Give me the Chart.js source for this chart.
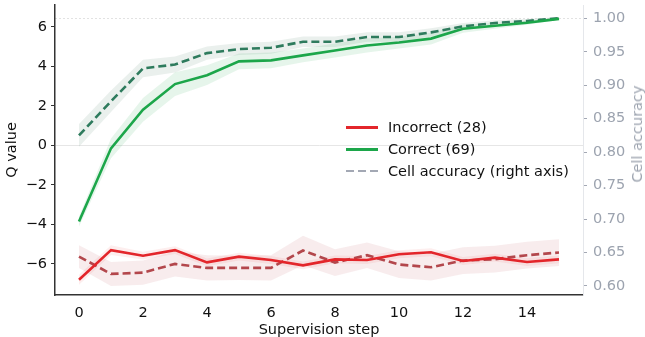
<!DOCTYPE html>
<html>
<head>
<meta charset="utf-8">
<title>Q value by supervision step</title>
<script src="https://cdn.jsdelivr.net/npm/chart.js@4.4.1/dist/chart.umd.min.js"></script>
<style>
  body { margin: 0; background: #fff; }
  #wrap { position: relative; width: 645px; height: 337px; }
  #legend {
    position: absolute; left: 346px; top: 116px;
    font: 14.5px "DejaVu Sans", sans-serif; color: #111;
  }
  .row { display: flex; align-items: center; height: 22px; white-space: nowrap; }
  .swatch { width: 32px; height: 3px; margin-right: 10px; }
  .dashed { background: repeating-linear-gradient(to right, #a3a8b4 0 8px, transparent 8px 12px); height: 2.5px; }
  #rightTitle {
    position: absolute; left: 637px; top: 134px;
    transform: translate(-50%, -50%) rotate(-90deg);
    font: 14.5px "DejaVu Sans", sans-serif; color: #9ca3af; white-space: nowrap;
  }
</style>
</head>
<body>
<div id="wrap">
  <canvas id="chart" width="645" height="337"></canvas>
  <div id="legend">
    <div class="row"><span class="swatch" style="background:#e3262b"></span>Incorrect (28)</div>
    <div class="row"><span class="swatch" style="background:#1ca64a"></span>Correct (69)</div>
    <div class="row"><span class="swatch dashed"></span>Cell accuracy (right axis)</div>
  </div>
  <div id="rightTitle">Cell accuracy</div>
</div>
<script>
// Supervision steps and tick labels
const steps = [0, 1, 2, 3, 4, 5, 6, 7, 8, 9, 10, 11, 12, 13, 14, 15];
const xTicks = [0, 2, 4, 6, 8, 10, 12, 14];
const qTicks = [-6, -4, -2, 0, 2, 4, 6];
const accTicks = [0.60, 0.65, 0.70, 0.75, 0.80, 0.85, 0.90, 0.95, 1.00];

// Q value (left axis), mean and band half-width
const correctQ = [-3.85, -0.15, 1.8, 3.1, 3.55, 4.25, 4.3, 4.55, 4.8, 5.05, 5.2, 5.4, 5.9, 6.05, 6.2, 6.4];
const correctQErr = [0.25, 0.5, 0.6, 0.6, 0.5, 0.4, 0.4, 0.35, 0.35, 0.35, 0.3, 0.3, 0.2, 0.15, 0.1, 0.05];
const incorrectQ = [-6.8, -5.3, -5.58, -5.3, -5.92, -5.63, -5.8, -6.07, -5.77, -5.8, -5.51, -5.41, -5.85, -5.68, -5.9, -5.77];
const incorrectQErr = [0.25, 0.25, 0.2, 0.2, 0.2, 0.2, 0.2, 0.2, 0.2, 0.2, 0.2, 0.2, 0.2, 0.2, 0.2, 0.2];

// Cell accuracy (right axis), mean and band half-width
const correctAcc = [0.825, 0.876, 0.925, 0.931, 0.948, 0.954, 0.956, 0.965, 0.965, 0.972, 0.972, 0.979, 0.988, 0.993, 0.996, 1.0];
const correctAccErr = [0.017, 0.016, 0.013, 0.012, 0.01, 0.009, 0.009, 0.008, 0.008, 0.007, 0.007, 0.006, 0.005, 0.004, 0.003, 0.002];
const incorrectAcc = [0.644, 0.618, 0.620, 0.633, 0.627, 0.627, 0.627, 0.653, 0.635, 0.646, 0.632, 0.628, 0.638, 0.640, 0.646, 0.650];
const incorrectAccErr = [0.017, 0.018, 0.018, 0.019, 0.019, 0.018, 0.019, 0.022, 0.02, 0.019, 0.02, 0.02, 0.02, 0.02, 0.02, 0.02];

Chart.defaults.font.family = "DejaVu Sans";
Chart.defaults.font.size = 14.5;

// turn a series into {x, y} points, optionally shifted by the band
function pts(values, errs, sign) {
    return steps.map((s, i) => ({ x: s, y: values[i] + (errs ? sign * errs[i] : 0) }));
}

// shaded band: upper edge, then lower edge filled up to it
function band(values, errs, axis, color) {
    return [
        { data: pts(values, errs, 1), yAxisID: axis, borderWidth: 0, pointRadius: 0, fill: false, order: 10 },
        { data: pts(values, errs, -1), yAxisID: axis, borderWidth: 0, pointRadius: 0, fill: "-1", backgroundColor: color, order: 10 }
    ];
}

function line(values, axis, color, dashed) {
    return {
        data: pts(values),
        yAxisID: axis,
        borderColor: color,
        borderWidth: 2.6,
        borderDash: dashed ? [8, 4] : [],
        pointRadius: 0,
        fill: false,
        order: dashed ? 2 : 1
    };
}

const datasets = [
    ...band(correctAcc, correctAccErr, "y1", "rgba(60,120,90,0.11)"),
    ...band(correctQ, correctQErr, "y", "rgba(28,166,74,0.11)"),
    ...band(incorrectAcc, incorrectAccErr, "y1", "rgba(190,70,75,0.10)"),
    ...band(incorrectQ, incorrectQErr, "y", "rgba(227,38,43,0.08)"),
    line(correctAcc, "y1", "#2e7b5d", true),
    line(incorrectAcc, "y1", "#b3474c", true),
    line(correctQ, "y", "#1ca64a", false),
    line(incorrectQ, "y", "#e3262b", false)
];

// drop the label overhang padding so the plot box stays where we put it
function noPad(s) {
    s.paddingTop = 0;
    s.paddingBottom = 0;
    s.paddingLeft = 0;
    s.paddingRight = 0;
}

const ctx = document.getElementById("chart").getContext("2d");

new Chart(ctx, {
    type: "line",
    data: { datasets },
    options: {
        responsive: false,
        animation: false,
        devicePixelRatio: 1,
        layout: { padding: { top: 5, left: 0, right: 0, bottom: 0 } },
        plugins: {
            legend: { display: false },
            tooltip: { enabled: false },
            filler: { drawTime: "beforeDatasetsDraw" }
        },
        scales: {
            x: {
                type: "linear",
                min: -0.75,
                max: 15.75,
                afterBuildTicks: s => { s.ticks = xTicks.map(v => ({ value: v })); },
                afterFit: s => { s.height = 42; noPad(s); },
                grid: { display: false, drawTicks: false },
                border: { color: "#333", width: 1.5 },
                ticks: { color: "#111", padding: 10, maxRotation: 0 },
                title: {
                    display: true, text: "Supervision step", color: "#111",
                    font: { lineHeight: 1 }, padding: { top: 0, bottom: 0 }
                }
            },
            y: {
                type: "linear",
                position: "left",
                min: -7.57,
                max: 7.10,
                afterBuildTicks: s => { s.ticks = qTicks.map(v => ({ value: v })); },
                afterFit: s => { s.width = 55; noPad(s); },
                grid: {
                    color: c => (c.tick && c.tick.value === 0 ? "#e6e6e6" : "rgba(0,0,0,0)"),
                    tickColor: "#333",
                    tickLength: 4
                },
                border: { color: "#333", width: 1.5 },
                ticks: { color: "#111", padding: 4, callback: v => String(v).replace("-", "\u2212") },
                title: { display: true, text: "Q value", color: "#111", padding: { top: 4, bottom: 0 } }
            },
            y1: {
                type: "linear",
                position: "right",
                min: 0.5865,
                max: 1.0199,
                afterBuildTicks: s => { s.ticks = accTicks.map(v => ({ value: v })); },
                afterFit: s => { s.width = 62; noPad(s); },
                grid: {
                    color: c => (c.tick && Math.abs(c.tick.value - 1) < 1e-9 ? "#e2e2e2" : "rgba(0,0,0,0)"),
                    tickColor: "#a3a8b4",
                    tickLength: 4
                },
                border: { color: "#e5e7eb", width: 1, dash: [2, 2] },
                ticks: { color: "#9ca3af", padding: 6, callback: v => v.toFixed(2) }
            }
        }
    }
});
</script>
</body>
</html>
